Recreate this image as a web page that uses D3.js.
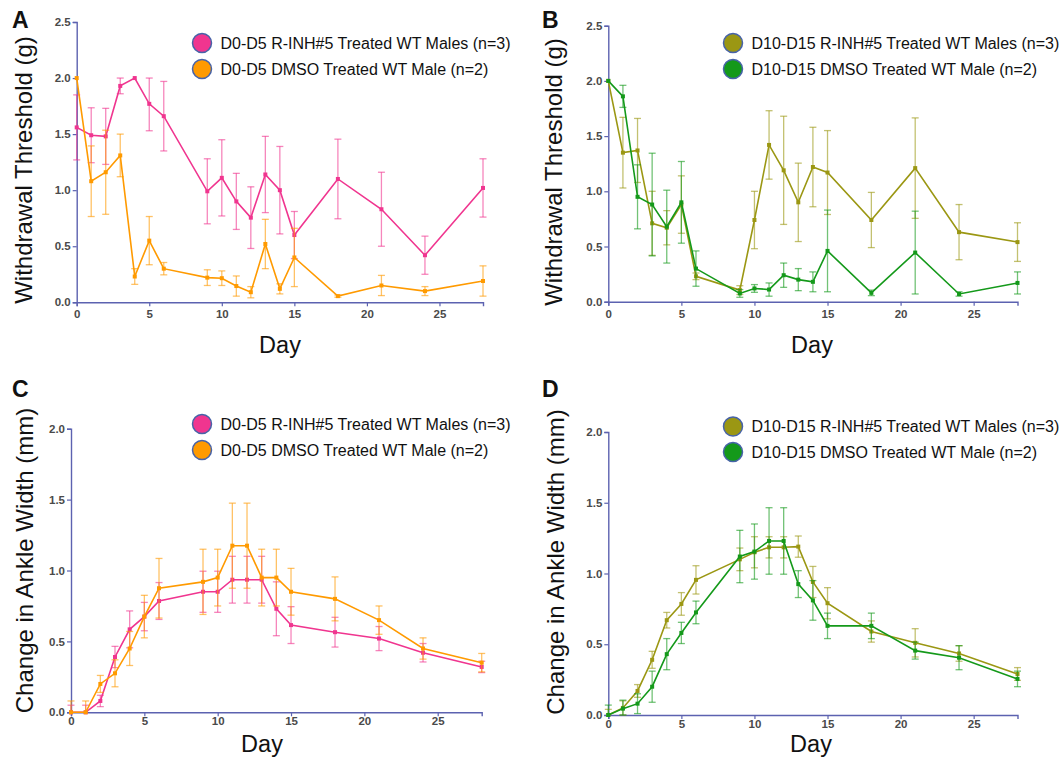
<!DOCTYPE html>
<html>
<head>
<meta charset="utf-8">
<script src="https://cdn.jsdelivr.net/npm/d3@7"></script>
<style>
  html, body { margin: 0; padding: 0; background: #fff; }
  svg { display: block; font-family: "Liberation Sans", Arial, Helvetica, sans-serif; }
</style>
</head>
<body>
<svg id="chart" width="1063" height="758"></svg>
<script>
// Days on which measurements were taken
const days = [0, 1, 2, 3, 4, 5, 6, 9, 10, 11, 12, 13, 14, 15, 18, 21, 24, 28];
const dayTicks = [0, 5, 10, 15, 20, 25];
const thresholdTicks = [0, 0.5, 1, 1.5, 2, 2.5];
const ankleTicks = [0, 0.5, 1, 1.5, 2];

// Series labels
const earlyInhLabel = "D0-D5 R-INH#5 Treated WT Males (n=3)";
const earlyDmsoLabel = "D0-D5 DMSO Treated WT Male (n=2)";
const lateInhLabel = "D10-D15 R-INH#5 Treated WT Males (n=3)";
const lateDmsoLabel = "D10-D15 DMSO Treated WT Male (n=2)";

// A: withdrawal threshold, D0-D5 treatment (mean, SEM)
const aInhMean = [1.56, 1.49, 1.48, 1.93, 2.0, 1.77, 1.66, 0.99, 1.11, 0.90, 0.755, 1.14, 1.0, 0.60, 1.10, 0.83, 0.42, 1.02];
const aInhErr  = [0.29, 0.245, 0.25, 0.07, 0, 0.24, 0.31, 0.29, 0.34, 0.25, 0.275, 0.34, 0.39, 0.21, 0.355, 0.33, 0.17, 0.26];
const aDmsoMean = [2.0, 1.08, 1.16, 1.31, 0.23, 0.55, 0.30, 0.22, 0.215, 0.145, 0.09, 0.52, 0.12, 0.40, 0.055, 0.15, 0.10, 0.19];
const aDmsoErr  = [0, 0.315, 0.375, 0.19, 0.07, 0.215, 0.055, 0.07, 0.065, 0.09, 0.05, 0.22, 0.045, 0.26, 0.01, 0.09, 0.04, 0.135];

// B: withdrawal threshold, D10-D15 treatment
const bInhMean = [2.0, 1.35, 1.37, 0.71, 0.67, 0.88, 0.23, 0.105, 0.74, 1.42, 1.19, 0.90, 1.22, 1.17, 0.74, 1.21, 0.63, 0.54];
const bInhErr  = [0, 0.32, 0.29, 0.29, 0.155, 0.26, 0.03, 0.04, 0.26, 0.31, 0.49, 0.355, 0.36, 0.38, 0.25, 0.455, 0.25, 0.175];
const bDmsoMean = [2.0, 1.86, 0.95, 0.88, 0.68, 0.90, 0.30, 0.075, 0.12, 0.11, 0.24, 0.20, 0.18, 0.46, 0.08, 0.445, 0.07, 0.17];
const bDmsoErr  = [0, 0.1, 0.29, 0.465, 0.33, 0.37, 0.16, 0.035, 0.035, 0.06, 0.11, 0.10, 0.09, 0.37, 0.025, 0.375, 0.02, 0.10];

// C: change in ankle width, D0-D5 treatment
const cInhMean = [0, 0, 0.08, 0.39, 0.585, 0.675, 0.785, 0.85, 0.85, 0.935, 0.935, 0.935, 0.73, 0.615, 0.565, 0.52, 0.42, 0.32];
const cInhErr  = [0.05, 0.05, 0.04, 0.075, 0.13, 0.10, 0.13, 0.145, 0.145, 0.165, 0.165, 0.165, 0.19, 0.13, 0.105, 0.085, 0.065, 0.04];
const cDmsoMean = [0, 0, 0.20, 0.275, 0.45, 0.675, 0.875, 0.92, 0.95, 1.175, 1.175, 0.95, 0.95, 0.85, 0.80, 0.65, 0.45, 0.35];
const cDmsoErr  = [0.08, 0.08, 0.06, 0.095, 0.12, 0.15, 0.21, 0.23, 0.20, 0.30, 0.30, 0.20, 0.20, 0.165, 0.155, 0.10, 0.075, 0.065];

// D: change in ankle width, D10-D15 treatment
const dInhMean = [0, 0.05, 0.17, 0.39, 0.67, 0.785, 0.955, 1.10, 1.15, 1.185, 1.185, 1.19, 0.94, 0.79, 0.59, 0.51, 0.435, 0.29];
const dInhErr  = [0.04, 0.05, 0.045, 0.06, 0.055, 0.08, 0.10, 0.08, 0.11, 0.075, 0.075, 0.075, 0.11, 0.11, 0.075, 0.10, 0.055, 0.045];
const dDmsoMean = [0, 0.045, 0.08, 0.20, 0.43, 0.58, 0.725, 1.12, 1.155, 1.23, 1.23, 0.925, 0.81, 0.63, 0.63, 0.455, 0.405, 0.255];
const dDmsoErr  = [0.07, 0.06, 0.07, 0.11, 0.11, 0.075, 0.08, 0.185, 0.195, 0.235, 0.235, 0.095, 0.14, 0.09, 0.09, 0.06, 0.085, 0.055];

// Colours
const pink = "#f0358f";
const orange = "#ff9a00";
const olive = "#9b9713";
const green = "#14991a";
const axisColor = "#5c62b0";
const legendStroke = "#4763a8";

const svg = d3.select("#chart");

function drawPanel(cfg) {
  const g = svg.append("g");
  const x = d3.scaleLinear().domain([0, 28]).range([cfg.left, cfg.right]);
  const y = d3.scaleLinear().domain([0, cfg.yMax]).range([cfg.bottom, cfg.top]);

  // Axes
  const yAxis = d3.axisLeft(y).tickValues(cfg.yTicks).tickSize(4).tickFormat(d3.format(".1f"));
  const xAxis = d3.axisBottom(x).tickValues(dayTicks).tickSize(4).tickFormat(d3.format("d"));

  const gy = g.append("g").attr("transform", `translate(${cfg.left},0)`).call(yAxis);
  const gx = g.append("g").attr("transform", `translate(0,${cfg.bottom})`).call(xAxis);
  [gx, gy].forEach(a => {
    a.select(".domain").attr("stroke", axisColor).attr("stroke-width", 1.4);
    a.selectAll(".tick line").attr("stroke", axisColor).attr("stroke-width", 1.2);
    a.selectAll(".tick text")
      .attr("fill", "#4a4a4a")
      .attr("font-size", 11.5)
      .attr("font-weight", "bold");
  });
  gy.selectAll(".tick text").attr("x", -6);
  gx.selectAll(".tick text").attr("y", cfg.xLabelGap);

  // Series: error bars, line, markers
  cfg.series.forEach(s => {
    const pts = days.map((d, i) => ({ d, m: s.mean[i], e: s.err[i] }));
    const eb = g.append("g")
      .attr("stroke", s.color)
      .attr("stroke-opacity", 0.6)
      .attr("stroke-width", 1.3);
    pts.forEach(p => {
      if (p.e <= 0) return;
      const hi = Math.min(p.m + p.e, cfg.clipHi);
      const lo = Math.max(p.m - p.e, 0);
      const cx = x(p.d);
      eb.append("line").attr("x1", cx).attr("x2", cx).attr("y1", y(hi)).attr("y2", y(lo));
      if (hi > p.m) eb.append("line").attr("x1", cx - 3.5).attr("x2", cx + 3.5).attr("y1", y(hi)).attr("y2", y(hi));
      if (lo < p.m) eb.append("line").attr("x1", cx - 3.5).attr("x2", cx + 3.5).attr("y1", y(lo)).attr("y2", y(lo));
    });
    g.append("path")
      .datum(pts)
      .attr("fill", "none")
      .attr("stroke", s.color)
      .attr("stroke-width", 1.6)
      .attr("d", d3.line().x(p => x(p.d)).y(p => y(p.m)));
    g.append("g").selectAll("rect")
      .data(pts)
      .join("rect")
      .attr("x", p => x(p.d) - 2)
      .attr("y", p => y(p.m) - 2)
      .attr("width", 4)
      .attr("height", 4)
      .attr("fill", s.color);
  });

  // Legend
  cfg.series.forEach((s, i) => {
    const ly = cfg.legendY + i * cfg.legendGap;
    g.append("circle")
      .attr("cx", cfg.legendX).attr("cy", ly).attr("r", 9.5)
      .attr("fill", s.color).attr("stroke", legendStroke).attr("stroke-width", 1.5);
    g.append("text")
      .attr("x", cfg.legendX + 18.5).attr("y", ly + 5.5)
      .attr("font-size", 16)
      .attr("fill", "#111")
      .text(s.label);
  });

  // Axis titles
  g.append("text")
    .attr("transform", `translate(${cfg.yTitleX},${cfg.yTitleY}) rotate(-90)`)
    .attr("text-anchor", "middle")
    .attr("font-size", 24)
    .attr("fill", "#111")
    .text(cfg.yTitle);
  g.append("text")
    .attr("x", cfg.dayX).attr("y", cfg.dayY)
    .attr("text-anchor", "middle")
    .attr("font-size", 23.5)
    .attr("fill", "#111")
    .text("Day");

  // Panel letter
  g.append("text")
    .attr("x", cfg.letterX).attr("y", cfg.letterY)
    .attr("font-size", 23)
    .attr("font-weight", "bold")
    .attr("fill", "#111")
    .text(cfg.letter);
}

drawPanel({
  letter: "A", letterX: 12, letterY: 28,
  left: 76.7, right: 483, top: 22, bottom: 302.3, yMax: 2.5, yTicks: thresholdTicks, clipHi: 2.0,
  xLabelGap: 8,
  yTitle: "Withdrawal Threshold (g)", yTitleX: 31.5, yTitleY: 170,
  dayX: 280, dayY: 353,
  legendX: 202, legendY: 43, legendGap: 26,
  series: [
    { label: earlyInhLabel, color: pink, mean: aInhMean, err: aInhErr },
    { label: earlyDmsoLabel, color: orange, mean: aDmsoMean, err: aDmsoErr }
  ]
});

drawPanel({
  letter: "B", letterX: 542, letterY: 28,
  left: 608.3, right: 1017.5, top: 25.7, bottom: 301.7, yMax: 2.5, yTicks: thresholdTicks, clipHi: 2.0,
  xLabelGap: 8,
  yTitle: "Withdrawal Threshold (g)", yTitleX: 561.5, yTitleY: 172,
  dayX: 812, dayY: 353,
  legendX: 733, legendY: 43, legendGap: 26,
  series: [
    { label: lateInhLabel, color: olive, mean: bInhMean, err: bInhErr },
    { label: lateDmsoLabel, color: green, mean: bDmsoMean, err: bDmsoErr }
  ]
});

drawPanel({
  letter: "C", letterX: 12, letterY: 397,
  left: 71, right: 481.7, top: 428.7, bottom: 712.3, yMax: 2.0, yTicks: ankleTicks, clipHi: 10,
  xLabelGap: 5,
  yTitle: "Change in Ankle Width (mm)", yTitleX: 33, yTitleY: 560.5,
  dayX: 262, dayY: 752,
  legendX: 202, legendY: 424, legendGap: 26,
  series: [
    { label: earlyInhLabel, color: pink, mean: cInhMean, err: cInhErr },
    { label: earlyDmsoLabel, color: orange, mean: cDmsoMean, err: cDmsoErr }
  ]
});

drawPanel({
  letter: "D", letterX: 542, letterY: 397,
  left: 608.3, right: 1017.5, top: 432, bottom: 715, yMax: 2.0, yTicks: ankleTicks, clipHi: 10,
  xLabelGap: 5,
  yTitle: "Change in Ankle Width (mm)", yTitleX: 563.5, yTitleY: 562,
  dayX: 811, dayY: 752,
  legendX: 733, legendY: 426.5, legendGap: 25.5,
  series: [
    { label: lateInhLabel, color: olive, mean: dInhMean, err: dInhErr },
    { label: lateDmsoLabel, color: green, mean: dDmsoMean, err: dDmsoErr }
  ]
});
</script>
</body>
</html>
